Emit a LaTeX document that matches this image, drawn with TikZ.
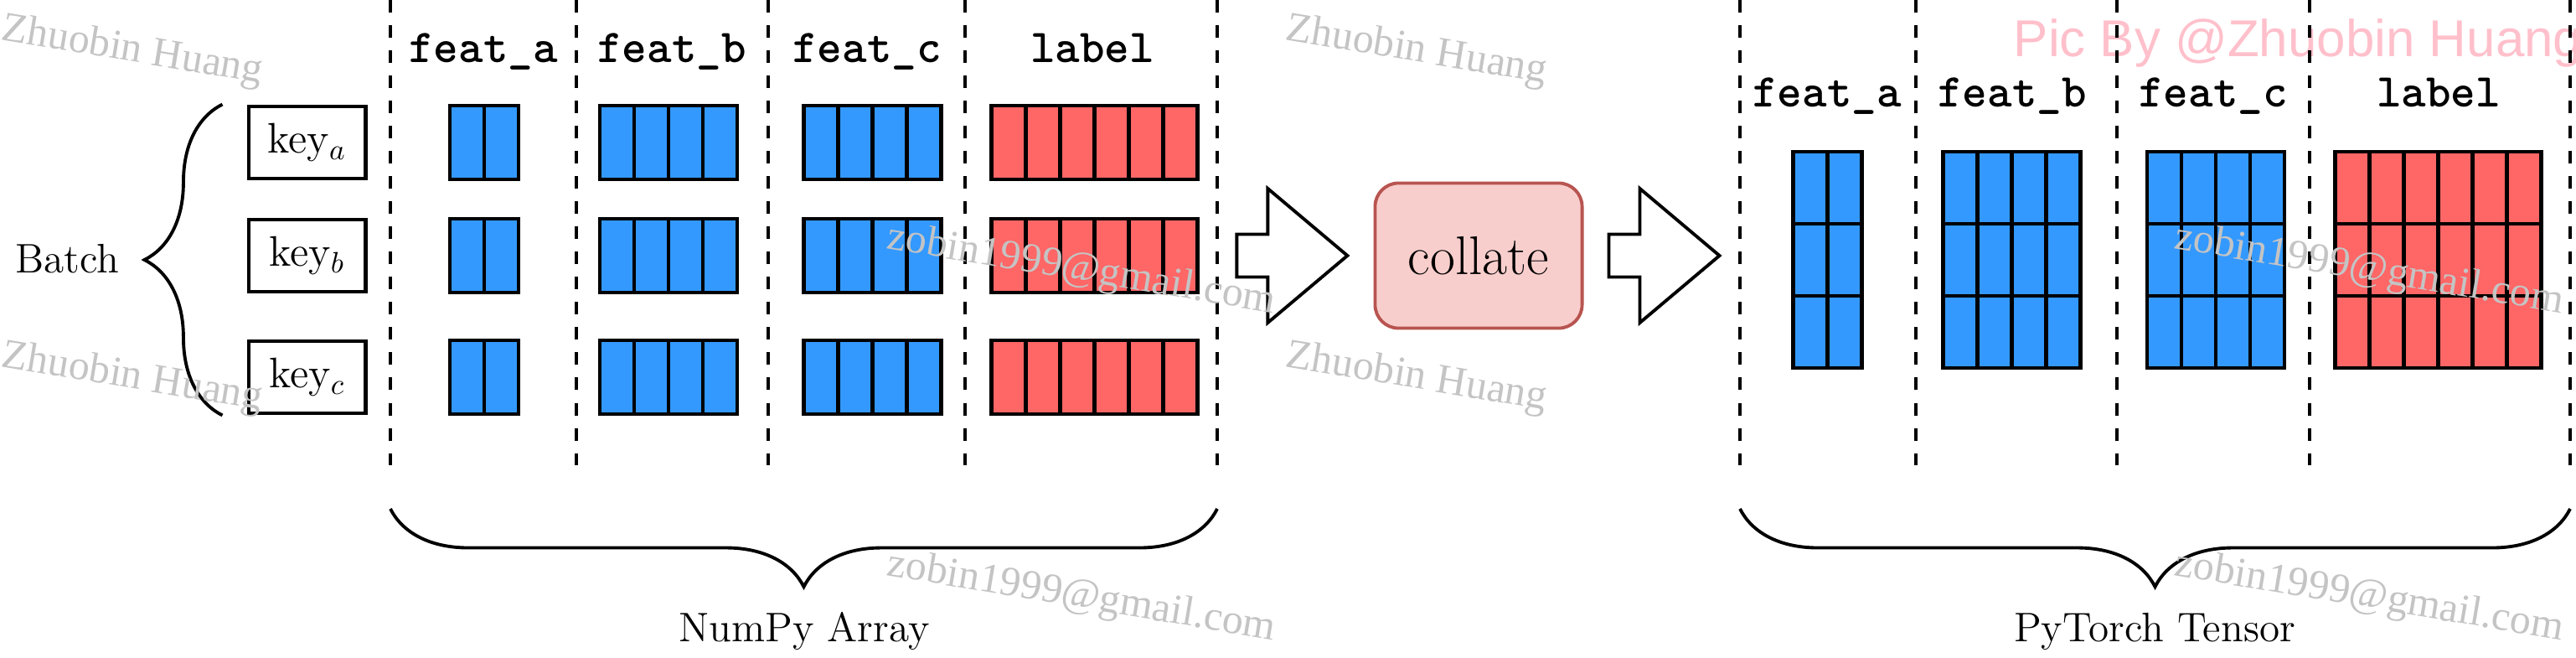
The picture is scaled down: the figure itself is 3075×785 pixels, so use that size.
\documentclass[tikz,border=0pt]{standalone}
\usepackage{fontspec}
\newfontfamily\wmfont{Liberation Serif}
\newfontfamily\signfont{Liberation Sans}
\usetikzlibrary{decorations.pathreplacing}
\definecolor{featblue}{HTML}{3399FF}
\definecolor{labelred}{HTML}{FF6666}
\definecolor{collatefill}{HTML}{F8CECC}
\definecolor{collatedraw}{HTML}{B85450}
\definecolor{wmgray}{HTML}{C4C4C4}
\definecolor{signpink}{HTML}{FFC0CB}

\begin{document}
\begin{tikzpicture}[x=0.01cm,y=-0.01cm,
    sep/.style={line width=1.33pt,dash pattern=on 4.27pt off 4.27pt},
    cell/.style={draw,line width=1.4pt},
    keybox/.style={draw,fill=white,line width=1.4pt,minimum width=1.39cm,minimum height=0.86cm,inner sep=0pt,font=\fontsize{14.5}{16}\selectfont},
    head/.style={anchor=base,font=\fontsize{16}{18}\selectfont\ttfamily\bfseries},
    caption/.style={anchor=base,font=\fontsize{14}{16}\selectfont},
    collatebox/.style={draw=collatedraw,fill=collatefill,line width=1.1pt,rounded corners=0.28cm,minimum width=2.47cm,minimum height=1.73cm,font=\fontsize{18.5}{20}\selectfont},
    curly/.style={decorate,decoration={brace,amplitude=0.93cm},line width=1.1pt},
    blockarrow/.style={draw,line width=1.1pt,fill=white,line join=miter},
    wm/.style={anchor=base west,rotate=-9.5,inner sep=0pt,text=wmgray,font=\fontsize{14.2}{16}\selectfont\wmfont}]
  \useasboundingbox (0,0) rectangle (3075,785);

  \node[anchor=base west,inner sep=0pt,text=signpink,font=\fontsize{17.6}{20}\selectfont\signfont] (sign) at (2403,68) {Pic By @Zhuobin Huang};

  % column separators
  \foreach \x in {466,688,917,1152,1453,2077,2287,2527,2757,3068}
    \draw[sep] (\x,0) -- (\x,555);

  % headings
  \foreach \name/\x/\txt in {ha/577/feat\_a,hb/802/feat\_b,hc/1035/feat\_c,hl/1304/label}
    \node[head] (\name) at (\x,75) {\txt};
  \foreach \name/\x/\txt in {ta/2181/feat\_a,tb/2402/feat\_b,tc/2642/feat\_c,tl/2911/label}
    \node[head] (\name) at (\x,128) {\txt};

  % batch keys
  \node[keybox] (ka) at (366.5,170) {key$_a$};
  \node[keybox] (kb) at (366.5,305) {key$_b$};
  \node[keybox] (kc) at (366.5,450) {key$_c$};
  \draw[curly] ([xshift=-0.29cm]kc.south west) -- ([xshift=-0.29cm]ka.north west);
  \node[caption] (batch) at (80,325) {Batch};

  % numpy arrays
  \foreach \x/\n/\col in {537/2/featblue,716/4/featblue,959.5/4/featblue,1183.5/6/labelred}
    \foreach \y in {126,261,406}
      \foreach \i in {1,...,\n}
        \draw[cell,fill=\col] ({\x+(\i-1)*41},\y) rectangle ++(41,88);

  % collate
  \node[collatebox] (collate) at (1765,305) {collate};
  \coordinate (in) at ([xshift=-1.63cm]collate.west);
  \coordinate (out) at ([xshift=0.30cm]collate.east);
  \foreach \a in {in,out}
    \draw[blockarrow] ([yshift=0.255cm]\a) -- ++(37,0) -- ++(0,-54.5) -- ++(95,80)
      -- ++(-95,80) -- ++(0,-54.5) -- ++(-37,0) -- cycle;

  % pytorch tensors
  \foreach \x/\n/\col in {2140.5/2/featblue,2319.5/4/featblue,2563/4/featblue,2787.5/6/labelred}
    \foreach \y in {181,267,353}
      \foreach \i in {1,...,\n}
        \draw[cell,fill=\col] ({\x+(\i-1)*41},\y) rectangle ++(41,86);

  % bottom braces
  \draw[curly] (1453,607) -- (466,607);
  \node[caption] (np) at (960,765) {NumPy Array};
  \draw[curly] (3068,607) -- (2077,607);
  \node[caption] (pt) at (2572,765) {PyTorch Tensor};

  % watermarks
  \foreach \x/\y in {0/47,0/437,1533/47,1533/437}
    \node[wm] (zh-\x-\y) at (\x,\y) {Zhuobin Huang};
  \foreach \x/\y in {1057/296,1057/686,2594/296,2594/686}
    \node[wm] (zm-\x-\y) at (\x,\y) {zobin1999@gmail.com};
\end{tikzpicture}
\end{document}
